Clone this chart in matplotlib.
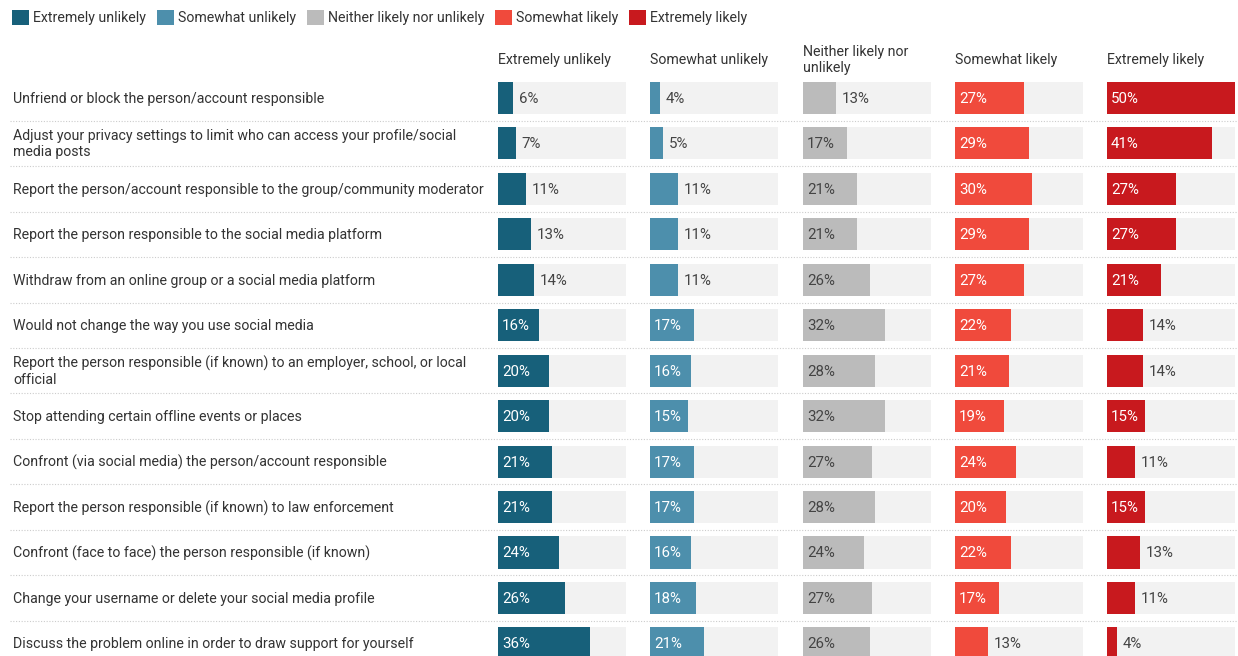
import matplotlib.pyplot as plt
from matplotlib.patches import Patch

plt.rcParams['font.family'] = ['Roboto', 'DejaVu Sans']

responses = ['Extremely unlikely', 'Somewhat unlikely', 'Neither likely nor unlikely',
             'Somewhat likely', 'Extremely likely']
headers = ['Extremely unlikely', 'Somewhat unlikely', 'Neither likely nor\nunlikely',
           'Somewhat likely', 'Extremely likely']
colors = ['#17607a', '#4d8fac', '#bbbbbb', '#f04a3c', '#c8191e']

actions = [
    'Unfriend or block the person/account responsible',
    'Adjust your privacy settings to limit who can access your profile/social\nmedia posts',
    'Report the person/account responsible to the group/community moderator',
    'Report the person responsible to the social media platform',
    'Withdraw from an online group or a social media platform',
    'Would not change the way you use social media',
    'Report the person responsible (if known) to an employer, school, or local\nofficial',
    'Stop attending certain offline events or places',
    'Confront (via social media) the person/account responsible',
    'Report the person responsible (if known) to law enforcement',
    'Confront (face to face) the person responsible (if known)',
    'Change your username or delete your social media profile',
    'Discuss the problem online in order to draw support for yourself',
]

extremely_unlikely = [6, 7, 11, 13, 14, 16, 20, 20, 21, 21, 24, 26, 36]
somewhat_unlikely = [4, 5, 11, 11, 11, 17, 16, 15, 17, 17, 16, 18, 21]
neither = [13, 17, 21, 21, 26, 32, 28, 32, 27, 28, 24, 27, 26]
somewhat_likely = [27, 29, 30, 29, 27, 22, 21, 19, 24, 20, 22, 17, 13]
extremely_likely = [50, 41, 27, 27, 21, 14, 14, 15, 11, 15, 13, 11, 4]

series = [extremely_unlikely, somewhat_unlikely, neither, somewhat_likely, extremely_likely]

W, H = 1238, 656
fig = plt.figure(figsize=(W / 100, H / 100), dpi=100)

# rows are one unit apart; first row centred 98px from the top
row0, pitch = 98, 45.45
n = len(actions)
y_top = (0 - row0) / pitch
y_bot = (H - row0) / pitch

base = fig.add_axes([0, 0, 1, 1])
base.set_xlim(0, W)
base.set_ylim(y_bot, y_top)
base.axis('off')

text_col = '#333333'
fs = 10.2
for i, label in enumerate(actions):
    base.text(13, i + 0.02, label, va='center', ha='left', fontsize=fs, color=text_col,
              linespacing=1.2)
    if i < n - 1:
        base.plot([10, W], [i + 0.5, i + 0.5], color='#cccccc', lw=0.8,
                  ls=(0, (1, 1.5)))

panel_left = [498, 650, 803, 955, 1107]
panel_w = 128
ax_top = 75
ax_y_top = (ax_top - row0) / pitch

for k, (vals, col, head) in enumerate(zip(series, colors, headers)):
    x0 = panel_left[k]
    base.text(x0, (60 - row0) / pitch, head, va='center', ha='left', fontsize=fs,
              color=text_col, linespacing=1.1)
    ax = fig.add_axes([x0 / W, 0, panel_w / W, (H - ax_top) / H])
    ax.set_xlim(0, 50)
    ax.set_ylim(y_bot, ax_y_top)
    ax.axis('off')
    rows = range(n)
    ax.barh(rows, [50] * n, height=0.705, color='#f2f2f2', zorder=1)
    ax.barh(rows, vals, height=0.705, color=col, zorder=2)
    for i, v in enumerate(vals):
        if v >= 15:
            tc = '#444444' if k == 2 else 'white'
            ax.text(1.5, i + 0.02, f'{v}%', va='center', ha='left', fontsize=10.8,
                    color=tc, zorder=3)
        else:
            ax.text(v + 2.2, i + 0.02, f'{v}%', va='center', ha='left', fontsize=10.8,
                    color='#444444', zorder=3)

handles = [Patch(facecolor=c, edgecolor='none') for c in colors]
fig.legend(handles, responses, loc='upper left', bbox_to_anchor=(0.004, 0.995),
           ncol=5, frameon=False, fontsize=fs, handlelength=1.2, handleheight=1.2,
           handletextpad=0.3, columnspacing=0.75, labelcolor=text_col,
           borderaxespad=0.2, borderpad=0.3)

fig.savefig('out.png', dpi=100)
